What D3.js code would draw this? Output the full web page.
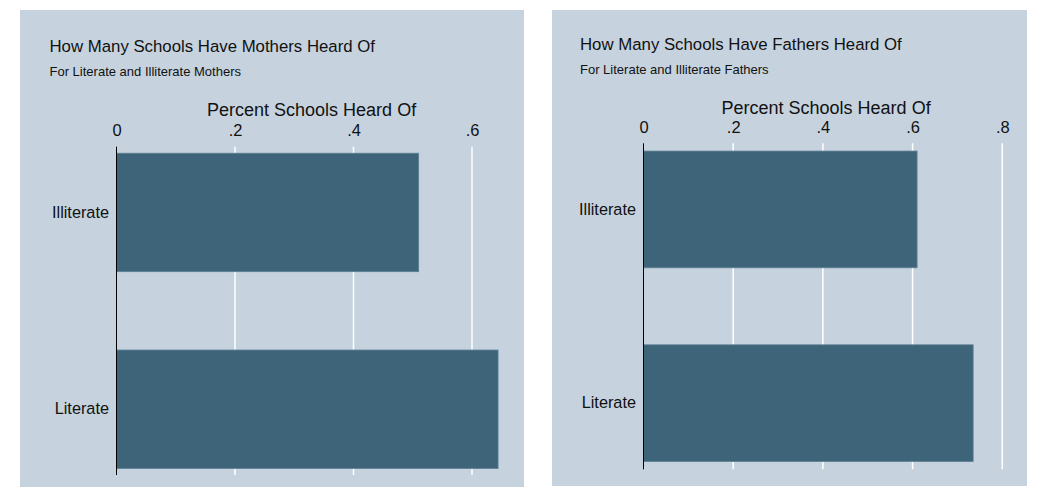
<!DOCTYPE html>
<html>
<head>
<meta charset="utf-8">
<script src="https://cdn.jsdelivr.net/npm/d3@7"></script>
<style>
  html, body { margin: 0; padding: 0; background: #ffffff; }
  svg { display: block; font-family: "Liberation Sans", Arial, Helvetica, sans-serif; }
</style>
</head>
<body>
<svg id="chart" width="1040" height="487"></svg>
<script>
// ---- data ----
const categories = ["Illiterate", "Literate"];
const motherValues = [0.51, 0.644];
const fatherValues = [0.61, 0.735];
const motherTicks = [0, 0.2, 0.4, 0.6];
const fatherTicks = [0, 0.2, 0.4, 0.6, 0.8];
const titles = ["How Many Schools Have Mothers Heard Of", "How Many Schools Have Fathers Heard Of"];
const subtitles = ["For Literate and Illiterate Mothers", "For Literate and Illiterate Fathers"];
const axisTitle = "Percent Schools Heard Of";

const BG = "#c6d3df";
const BAR = "#3e6479";
const BAR_EDGE = "#5f8196";

const svg = d3.select("#chart");
const fmt = v => v === 0 ? "0" : d3.format(".1f")(v).replace(/^0/, "");

function drawPanel(o) {
  const g = svg.append("g");
  g.append("rect")
    .attr("x", o.px).attr("y", o.py).attr("width", o.pw).attr("height", o.ph)
    .attr("fill", BG);

  g.append("text").attr("x", o.textX).attr("y", o.titleY)
    .attr("font-size", 16.8).attr("fill", "#111").text(o.title);
  g.append("text").attr("x", o.textX).attr("y", o.subY)
    .attr("font-size", 13).attr("fill", "#111").text(o.subtitle);

  const x = d3.scaleLinear().domain([0, o.tickMax]).range([o.x0, o.x1]);
  const y = d3.scaleBand().domain(categories).range([o.top, o.bottom])
    .paddingInner(o.padIn).paddingOuter(o.padOut);

  // gridlines
  g.append("g").selectAll("line").data(o.ticks.filter(t => t !== 0)).join("line")
    .attr("x1", d => x(d)).attr("x2", d => x(d))
    .attr("y1", o.top).attr("y2", o.bottom)
    .attr("stroke", "#ffffff").attr("stroke-width", 1.5);

  // bars
  g.append("g").selectAll("rect").data(o.values).join("rect")
    .attr("x", x(0))
    .attr("y", (d, i) => y(categories[i]))
    .attr("width", d => x(d) - x(0))
    .attr("height", y.bandwidth())
    .attr("fill", BAR).attr("stroke", BAR_EDGE).attr("stroke-width", 0.8);

  // top axis labels
  const ax = d3.axisTop(x).tickValues(o.ticks).tickFormat(fmt).tickSize(0).tickPadding(0);
  const axG = g.append("g").attr("transform", `translate(0,${o.tickY})`).call(ax);
  axG.select(".domain").remove();
  axG.selectAll("text").attr("font-size", 16.5).attr("fill", "#111")
    .attr("font-family", "Liberation Sans, Arial, sans-serif").attr("dy", 0);

  g.append("text").attr("x", (o.x0 + o.xr) / 2).attr("y", o.axisTitleY)
    .attr("text-anchor", "middle").attr("font-size", 18).attr("fill", "#111").text(axisTitle);

  // y axis
  const ay = d3.axisLeft(y).tickSize(0).tickPadding(7.5);
  const ayG = g.append("g").attr("transform", `translate(${x(0)},0)`).call(ay);
  ayG.select(".domain").remove();
  ayG.selectAll("text").attr("font-size", 16.3).attr("fill", "#111")
    .attr("font-family", "Liberation Sans, Arial, sans-serif");

  g.append("line").attr("x1", x(0)).attr("x2", x(0)).attr("y1", o.top).attr("y2", o.bottom)
    .attr("stroke", "#000").attr("stroke-width", 1);
}

drawPanel({
  px: 20, py: 10, pw: 504, ph: 477,
  textX: 49.5, titleY: 51.5, subY: 76,
  title: titles[0], subtitle: subtitles[0],
  values: motherValues, ticks: motherTicks, tickMax: 0.6,
  x0: 116.5, x1: 472, xr: 506.7,
  top: 146.7, bottom: 475, padIn: 0.398, padOut: 0.033,
  tickY: 136.3, axisTitleY: 116
});

drawPanel({
  px: 552, py: 10, pw: 475, ph: 476,
  textX: 580, titleY: 50, subY: 74,
  title: titles[1], subtitle: subtitles[1],
  values: fatherValues, ticks: fatherTicks, tickMax: 0.8,
  x0: 643.5, x1: 1002.3, xr: 1008.7,
  top: 143.3, bottom: 469.3, padIn: 0.3975, padOut: 0.04,
  tickY: 133.3, axisTitleY: 114
});
</script>
</body>
</html>
